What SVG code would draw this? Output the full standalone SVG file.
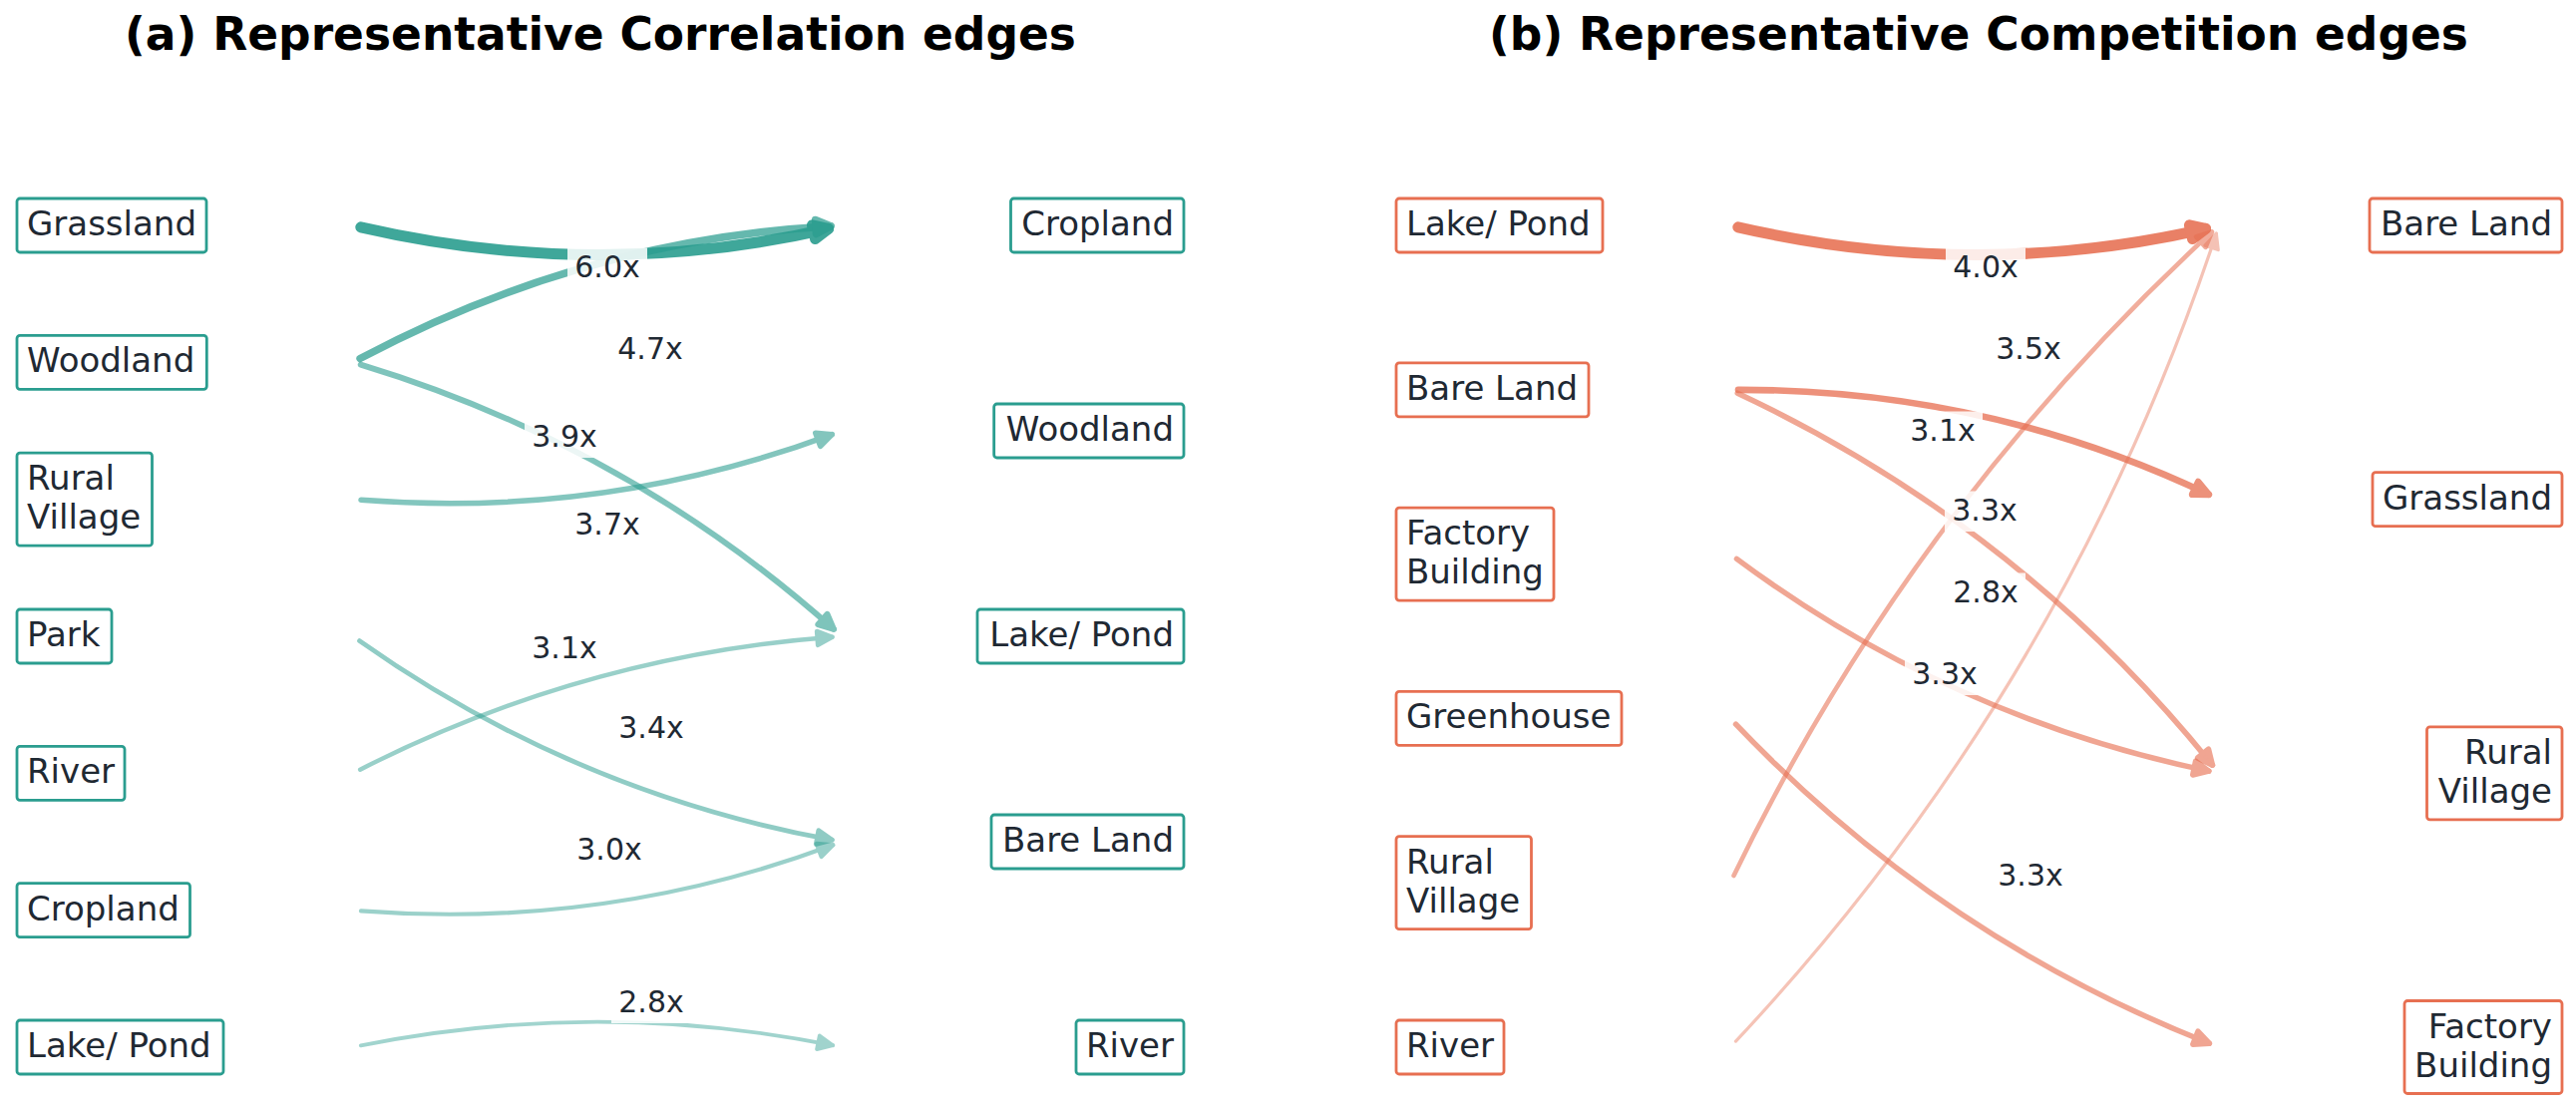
<svg xmlns="http://www.w3.org/2000/svg" width="2583" height="1112" viewBox="0 0 2583 1112">
<style>
text{font-family:"DejaVu Sans","Liberation Sans",sans-serif;fill:#1f2933}
.title{font-weight:bold;font-size:45.5px;fill:#000;text-anchor:middle}
.nt{font-size:34px}
.r{text-anchor:end}
.lbl{font-size:30px;text-anchor:middle}
.ba{fill:#fff;stroke:#2a9d8f;stroke-width:2.8}
.bb{fill:#fff;stroke:#e76f51;stroke-width:2.8}
.ea .l{fill:none;stroke:#2a9d8f;stroke-linecap:round}
.ea .h{fill:#2a9d8f;stroke:#2a9d8f;stroke-linejoin:round}
.eb .l{fill:none;stroke:#e76f51;stroke-linecap:round}
.eb .h{fill:#e76f51;stroke:#e76f51;stroke-linejoin:round}
.lb{fill:#fff;opacity:0.85}
</style>
<rect width="2583" height="1112" fill="#fff"/>
<text class="title" x="602" y="50">(a) Representative Correlation edges</text>
<text class="title" x="1984" y="50">(b) Representative Competition edges</text>

<g id="connectors">
<g id="edge-a1" class="ea" opacity="0.9" stroke-width="11"><path class="l" d="M361.8,227.79 Q599,282.35 830.58,229.32"/><path class="h" d="M830.58,229.32 L817.53,239.5 L814.39,225.86 Z"/></g>
<g id="edge-a2" class="ea" opacity="0.72" stroke-width="7.5"><path class="l" d="M361.06,359.54 Q583.9,240.75 833.02,226.68"/><path class="h" d="M833.02,226.68 L818.44,234.52 L817.64,220.54 Z"/></g>
<g id="edge-a3" class="ea" opacity="0.6" stroke-width="5.8"><path class="l" d="M361.66,365.62 Q629.22,446.75 836.05,630.92"/><path class="h" d="M836.05,630.92 L820.2,626.17 L829.51,615.71 Z"/></g>
<g id="edge-a4" class="ea" opacity="0.58" stroke-width="5.5"><path class="l" d="M361.98,501.32 Q606.56,520.25 834.25,435.62"/><path class="h" d="M834.25,435.62 L822.63,447.41 L817.75,434.29 Z"/></g>
<g id="edge-a5" class="ea" opacity="0.52" stroke-width="4.8"><path class="l" d="M360.54,642.61 Q576.34,794.9 834.32,842.22"/><path class="h" d="M834.32,842.22 L818.3,846.4 L820.82,832.62 Z"/></g>
<g id="edge-a6" class="ea" opacity="0.48" stroke-width="4.4"><path class="l" d="M361.13,771.67 Q585.27,657.65 834.51,638.72"/><path class="h" d="M834.51,638.72 L820.08,646.84 L819.02,632.88 Z"/></g>
<g id="edge-a7" class="ea" opacity="0.47" stroke-width="4.2"><path class="l" d="M361.98,913.32 Q606.56,932.25 835.23,847.26"/><path class="h" d="M835.23,847.26 L823.61,859.05 L818.73,845.93 Z"/></g>
<g id="edge-a8" class="ea" opacity="0.44" stroke-width="3.8"><path class="l" d="M361.84,1048.43 Q599,1001 835.14,1048.23"/><path class="h" d="M835.14,1048.23 L819.06,1052.15 L821.8,1038.43 Z"/></g>

<g id="edge-b1" class="eb" opacity="0.88" stroke-width="11"><path class="l" d="M1742.8,227.79 Q1980,282.35 2211.58,229.32"/><path class="h" d="M2211.58,229.32 L2198.53,239.5 L2195.39,225.86 Z"/></g>
<g id="edge-b3" class="eb" opacity="0.76" stroke-width="6.7"><path class="l" d="M1743,390.79 Q1992.42,390.38 2214.74,495.83"/><path class="h" d="M2214.74,495.83 L2198.19,495.73 L2204.19,483.07 Z"/></g>
<g id="edge-b4" class="eb" opacity="0.62" stroke-width="5.5"><path class="l" d="M1742.24,394.2 Q2024.22,526.7 2218.47,767.21"/><path class="h" d="M2218.47,767.21 L2203.6,759.94 L2214.5,751.14 Z"/></g>
<g id="edge-b5" class="eb" opacity="0.62" stroke-width="5.5"><path class="l" d="M1741.43,560.37 Q1955.83,719.35 2214.82,773.18"/><path class="h" d="M2214.82,773.18 L2198.71,776.98 L2201.55,763.28 Z"/></g>
<g id="edge-b6" class="eb" opacity="0.62" stroke-width="5.5"><path class="l" d="M1740.52,726.19 Q1943.74,939.1 2215.32,1046.19"/><path class="h" d="M2215.32,1046.19 L2198.79,1047.2 L2203.93,1034.18 Z"/></g>
<g id="edge-b2" class="eb" opacity="0.57" stroke-width="4.6"><path class="l" d="M1738.49,878 Q1917.38,509.05 2217.88,232.55"/><path class="h" d="M2217.88,232.55 L2211.58,247.86 L2202.1,237.56 Z"/></g>
<g id="edge-b7" class="eb" opacity="0.42" stroke-width="3.2"><path class="l" d="M1740.47,1044.16 Q2070.64,691.9 2222.31,234.13"/><path class="h" d="M2222.31,234.13 L2224.24,250.57 L2210.94,246.17 Z"/></g>
</g>

<g id="edge-labels">
<g><rect class="lb" x="569" y="248.5" width="80" height="40.5"/><text class="lbl" x="609" y="278">6.0x</text></g>
<g><rect class="lb" x="612" y="330.5" width="80" height="40.5"/><text class="lbl" x="652" y="360">4.7x</text></g>
<g><rect class="lb" x="526" y="418.5" width="80" height="40.5"/><text class="lbl" x="566" y="448">3.9x</text></g>
<g><rect class="lb" x="569" y="506.5" width="80" height="40.5"/><text class="lbl" x="609" y="536">3.7x</text></g>
<g><rect class="lb" x="526" y="630.5" width="80" height="40.5"/><text class="lbl" x="566" y="660">3.1x</text></g>
<g><rect class="lb" x="613" y="710.5" width="80" height="40.5"/><text class="lbl" x="653" y="740">3.4x</text></g>
<g><rect class="lb" x="571" y="832.5" width="80" height="40.5"/><text class="lbl" x="611" y="862">3.0x</text></g>
<g><rect class="lb" x="613" y="985.5" width="80" height="40.5"/><text class="lbl" x="653" y="1015">2.8x</text></g>

<g><rect class="lb" x="1951" y="248.5" width="80" height="40.5"/><text class="lbl" x="1991" y="278">4.0x</text></g>
<g><rect class="lb" x="1994" y="330.5" width="80" height="40.5"/><text class="lbl" x="2034" y="360">3.5x</text></g>
<g><rect class="lb" x="1908" y="412.5" width="80" height="40.5"/><text class="lbl" x="1948" y="442">3.1x</text></g>
<g><rect class="lb" x="1950" y="492.5" width="80" height="40.5"/><text class="lbl" x="1990" y="522">3.3x</text></g>
<g><rect class="lb" x="1951" y="574.5" width="80" height="40.5"/><text class="lbl" x="1991" y="604">2.8x</text></g>
<g><rect class="lb" x="1910" y="656.5" width="80" height="40.5"/><text class="lbl" x="1950" y="686">3.3x</text></g>
<g><rect class="lb" x="1996" y="858.5" width="80" height="40.5"/><text class="lbl" x="2036" y="888">3.3x</text></g>
</g>

<g id="a-src-grassland"><rect class="ba" x="17" y="199" width="190" height="54" rx="3"/><text class="nt" x="27" y="236">Grassland</text></g>
<g id="a-src-woodland"><rect class="ba" x="17" y="336.3" width="190.3" height="54" rx="3"/><text class="nt" x="27" y="373.3">Woodland</text></g>
<g id="a-src-rural-village"><rect class="ba" x="17" y="454.2" width="135.5" height="93" rx="3"/><text class="nt"><tspan x="27" y="491.2">Rural</tspan><tspan x="27" y="530.2">Village</tspan></text></g>
<g id="a-src-park"><rect class="ba" x="17" y="611" width="95" height="54" rx="3"/><text class="nt" x="27" y="648">Park</text></g>
<g id="a-src-river"><rect class="ba" x="17" y="748.3" width="108" height="54" rx="3"/><text class="nt" x="27" y="785.3">River</text></g>
<g id="a-src-cropland"><rect class="ba" x="17" y="885.7" width="173.5" height="54" rx="3"/><text class="nt" x="27" y="922.7">Cropland</text></g>
<g id="a-src-lake-pond"><rect class="ba" x="17" y="1023" width="207" height="54" rx="3"/><text class="nt" x="27" y="1060">Lake/ Pond</text></g>

<g id="a-dst-cropland"><rect class="ba" x="1013.5" y="199" width="173.5" height="54" rx="3"/><text class="nt r" x="1177" y="236">Cropland</text></g>
<g id="a-dst-woodland"><rect class="ba" x="996.7" y="405" width="190.3" height="54" rx="3"/><text class="nt r" x="1177" y="442">Woodland</text></g>
<g id="a-dst-lake-pond"><rect class="ba" x="980" y="611" width="207" height="54" rx="3"/><text class="nt r" x="1177" y="648">Lake/ Pond</text></g>
<g id="a-dst-bare-land"><rect class="ba" x="994" y="817" width="193" height="54" rx="3"/><text class="nt r" x="1177" y="854">Bare Land</text></g>
<g id="a-dst-river"><rect class="ba" x="1079" y="1023" width="108" height="54" rx="3"/><text class="nt r" x="1177" y="1060">River</text></g>

<g id="b-src-lake-pond"><rect class="bb" x="1400" y="199" width="207" height="54" rx="3"/><text class="nt" x="1410" y="236">Lake/ Pond</text></g>
<g id="b-src-bare-land"><rect class="bb" x="1400" y="363.8" width="193" height="54" rx="3"/><text class="nt" x="1410" y="400.8">Bare Land</text></g>
<g id="b-src-factory-building"><rect class="bb" x="1400" y="509.1" width="158" height="93" rx="3"/><text class="nt"><tspan x="1410" y="546.1">Factory</tspan><tspan x="1410" y="585.1">Building</tspan></text></g>
<g id="b-src-greenhouse"><rect class="bb" x="1400" y="693.4" width="226" height="54" rx="3"/><text class="nt" x="1410" y="730.4">Greenhouse</text></g>
<g id="b-src-rural-village"><rect class="bb" x="1400" y="838.7" width="135.5" height="93" rx="3"/><text class="nt"><tspan x="1410" y="875.7">Rural</tspan><tspan x="1410" y="914.7">Village</tspan></text></g>
<g id="b-src-river"><rect class="bb" x="1400" y="1023" width="108" height="54" rx="3"/><text class="nt" x="1410" y="1060">River</text></g>

<g id="b-dst-bare-land"><rect class="bb" x="2376" y="199" width="193" height="54" rx="3"/><text class="nt r" x="2559" y="236">Bare Land</text></g>
<g id="b-dst-grassland"><rect class="bb" x="2379" y="473.7" width="190" height="54" rx="3"/><text class="nt r" x="2559" y="510.7">Grassland</text></g>
<g id="b-dst-rural-village"><rect class="bb" x="2433.5" y="728.8" width="135.5" height="93" rx="3"/><text class="nt r"><tspan x="2559" y="765.8">Rural</tspan><tspan x="2559" y="804.8">Village</tspan></text></g>
<g id="b-dst-factory-building"><rect class="bb" x="2411" y="1003.5" width="158" height="93" rx="3"/><text class="nt r"><tspan x="2559" y="1040.5">Factory</tspan><tspan x="2559" y="1079.5">Building</tspan></text></g>
</svg>
